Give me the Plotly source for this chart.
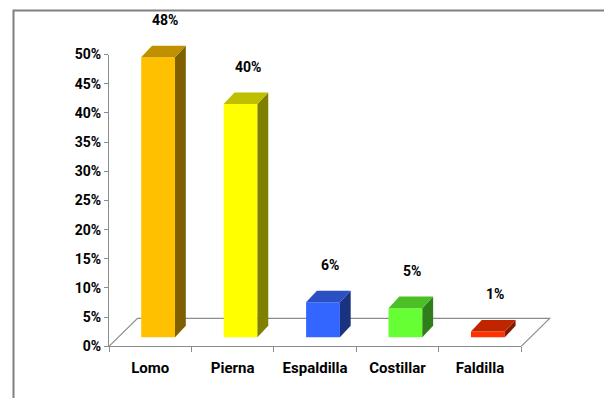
import plotly.graph_objects as go

# ---- data ----
categories = ["Lomo", "Pierna", "Espaldilla", "Costillar", "Faldilla"]
values = [48, 40, 6, 5, 1]
y_ticks = [0, 5, 10, 15, 20, 25, 30, 35, 40, 45, 50]
front_colors = ["#FFC000", "#FFFF00", "#3366FF", "#66FF33", "#FF3300"]
top_colors = ["#BF9000", "#BFBF00", "#2A50C4", "#4CBF26", "#BF2600"]
side_colors = ["#7F6000", "#7F7F00", "#1A3380", "#2E7F19", "#801A00"]

# ---- layout geometry ----
W, H = 604, 398
OY, SY = 6.6, 0.962          # vertical placement: page row = OY + SY * figure row


def fy(row):
    """figure pixel row for a page row"""
    return (row - OY) / SY


X0 = 109.0                   # left end of category axis (px)
CAT_PX = 82.44               # pixels per category slot
Y0 = fy(345.7)               # row of 0 %
PCT_PX = 5.848 / SY          # pixels per percentage point
FLOOR_DX, FLOOR_DY = 28.5, 28.0 / SY      # floor depth offset
BAR_DX, BAR_DY = 10.8, 11.6 / SY          # bar depth offset
BAR_SHIFT_X, BAR_SHIFT_Y = 7.9, 9.0 / SY  # bar front face offset from axis
BAR_W = 0.41                 # bar width in category units
LABEL_SHIFT = 36 / SY        # value label height above bar top

GRAY = "#8C8C8C"
FONT = "Roboto, Liberation Sans, Arial, sans-serif"

# convert pixel offsets to data units
fdx, fdy = FLOOR_DX / CAT_PX, FLOOR_DY / PCT_PX
bdx, bdy = BAR_DX / CAT_PX, BAR_DY / PCT_PX
sx, base = BAR_SHIFT_X / CAT_PX, BAR_SHIFT_Y / PCT_PX
n = len(categories)
idx = list(range(n))

fig = go.Figure()

# axis subplot: carries the tick labels and axis lines
fig.add_trace(go.Scatter(x=idx, y=values, mode="markers", marker=dict(opacity=0),
                         xaxis="x", yaxis="y", hoverinfo="skip", showlegend=False))

# front faces
centers = [i + sx for i in idx]
fig.add_trace(go.Bar(x=centers, y=values, base=[base] * n, width=BAR_W,
                     marker=dict(color=front_colors, line=dict(width=0)),
                     xaxis="x2", yaxis="y2", showlegend=False))

# side and top faces
for c, v, tc, sc in zip(centers, values, top_colors, side_colors):
    xl, xr = c - BAR_W / 2, c + BAR_W / 2
    top = base + v
    fig.add_trace(go.Scatter(
        x=[xr, xr + bdx, xr + bdx, xr, xr],
        y=[base, base + bdy, top + bdy, top, base],
        fill="toself", fillcolor=sc, mode="lines", line=dict(width=0, color=sc),
        xaxis="x2", yaxis="y2", hoverinfo="skip", showlegend=False))
    fig.add_trace(go.Scatter(
        x=[xl, xr, xr + bdx, xl + bdx, xl],
        y=[top, top, top + bdy, top + bdy, top],
        fill="toself", fillcolor=tc, mode="lines", line=dict(width=0, color=tc),
        xaxis="x2", yaxis="y2", hoverinfo="skip", showlegend=False))

# value labels
for c, v in zip(centers, values):
    fig.add_annotation(x=c + bdx / 2 + 0.02, y=base + v, xref="x2", yref="y2",
                       text=f"{v}%", showarrow=False, yshift=LABEL_SHIFT,
                       font=dict(family=FONT, size=14, color="#000000", weight="bold"))

# floor outline, drawn beneath the bars (front edge is the x axis line)
fx0, fx1 = -0.5, n - 0.5
floor_path = (f"M {fx0},0 L {fx0 + fdx},{fdy} L {fx1 + fdx},{fdy} L {fx1},0")

# axis ranges for the full-canvas overlay subplot
x2_range = [-X0 / CAT_PX - 0.5, (W - X0) / CAT_PX - 0.5]
y2_range = [(Y0 - H) / PCT_PX, Y0 / PCT_PX]

fig.update_layout(
    width=W, height=H,
    margin=dict(l=0, r=0, t=0, b=0),
    paper_bgcolor="white", plot_bgcolor="rgba(0,0,0,0)",
    showlegend=False,
    xaxis=dict(
        domain=[X0 / W, (X0 + n * CAT_PX) / W], anchor="y",
        range=[-0.5, n - 0.5], showgrid=False, zeroline=False,
        showline=True, linecolor=GRAY, linewidth=1.2,
        tickmode="array", tickvals=idx, ticktext=categories,
        ticks="", ticklabelstandoff=8,
        tickfont=dict(family=FONT, size=15, color="#000000", weight="bold"),
        minor=dict(tickmode="array", tickvals=[i - 0.5 for i in range(n + 1)],
                   ticks="outside", ticklen=5, tickcolor=GRAY, tickwidth=1.2),
    ),
    yaxis=dict(
        domain=[(H - Y0) / H, (H - (Y0 - 50 * PCT_PX)) / H], anchor="x",
        range=[0, 50], showgrid=False, zeroline=False,
        showline=True, linecolor=GRAY, linewidth=1.2,
        tickmode="array", tickvals=y_ticks, ticktext=[f"{t}%" for t in y_ticks],
        ticks="outside", ticklen=4, tickcolor=GRAY, tickwidth=1.2,
        tickfont=dict(family=FONT, size=14, color="#000000", weight="bold"),
    ),
    xaxis2=dict(domain=[0, 1], anchor="y2", range=x2_range, visible=False,
                showgrid=False, zeroline=False),
    yaxis2=dict(domain=[0, 1], anchor="x2", range=y2_range, visible=False,
                showgrid=False, zeroline=False),
    shapes=[
        dict(type="path", xref="x2", yref="y2", path=floor_path,
             line=dict(color=GRAY, width=1.2), layer="below"),
        dict(type="rect", xref="paper", yref="paper",
             x0=13.5 / W, x1=1.05, y0=-0.05, y1=(H - fy(9)) / H,
             line=dict(color="#808080", width=2), fillcolor="rgba(0,0,0,0)",
             layer="below"),
    ],
)

fig.write_html("out.html")
